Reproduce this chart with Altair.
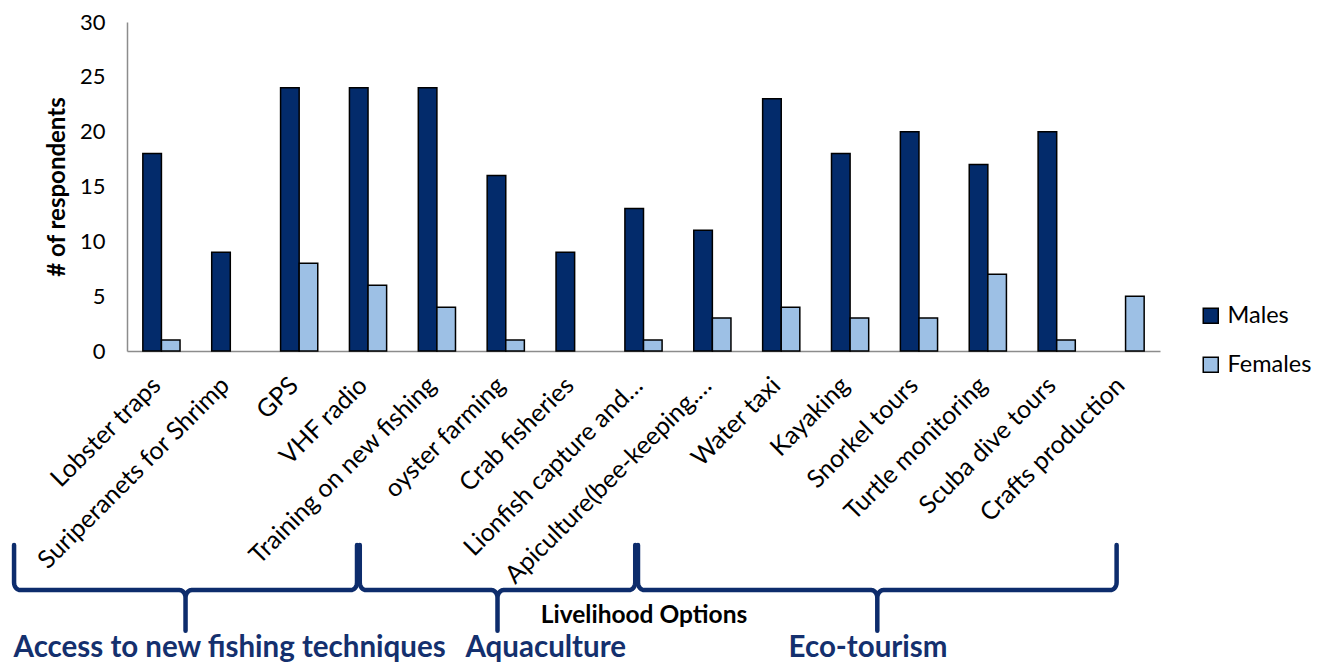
import math
import altair as alt
import pandas as pd

# Survey results: number of respondents interested in each livelihood option
options = [
    "Lobster traps", "Suriperanets for Shrimp", "GPS", "VHF radio",
    "Training on new fishing", "oyster farming", "Crab fisheries",
    "Lionfish capture and…", "Apiculture(bee-keeping.…", "Water taxi",
    "Kayaking", "Snorkel tours", "Turtle monitoring", "Scuba dive tours",
    "Crafts production",
]
males = [18, 9, 24, 24, 24, 16, 9, 13, 11, 23, 18, 20, 17, 20, 0]
females = [1, 0, 8, 6, 4, 1, 0, 1, 3, 4, 3, 3, 7, 1, 5]
series = ["Males", "Females"]

# Option groups shown with curly braces under the axis (extent in category units)
group_names = ["Access to new fishing techniques", "Aquaculture", "Eco-tourism"]
group_start = [-1.64, 3.38, 7.42]
group_end = [3.34, 7.38, 14.37]
group_label_x = [1.49, 6.08, 10.76]

NAVY = "#032b6b"
LIGHT = "#9dc0e5"
BRACE = "#0d2c6c"
FONT = "Lato"

rows = []
for i, opt in enumerate(options):
    rows.append({"option": opt, "sex": "Males", "count": males[i]})
    rows.append({"option": opt, "sex": "Females", "count": females[i]})
bars_df = pd.DataFrame(rows)


def brace(x0, x1, y_top, y_mid, y_tip, rx, ry, n=8):
    """Polyline of a downward-pointing curly brace in axis units."""
    xc = (x0 + x1) / 2
    pts = [(x0, y_top)]
    for k in range(n + 1):
        t = k / n * math.pi / 2
        pts.append((x0 + rx * (1 - math.cos(t)), y_mid + ry * (1 - math.sin(t))))
    for k in range(n + 1):
        t = k / n * math.pi / 2
        pts.append((xc - rx + rx * math.sin(t), y_mid - ry + ry * math.cos(t)))
    pts.append((xc, y_tip))
    for k in range(n + 1):
        t = k / n * math.pi / 2
        pts.append((xc + rx - rx * math.cos(t), y_mid - ry + ry * math.sin(t)))
    for k in range(n + 1):
        t = k / n * math.pi / 2
        pts.append((x1 - rx + rx * math.sin(t), y_mid + ry * (1 - math.cos(t))))
    pts.append((x1, y_top))
    return pts


brace_rows = []
for g, name in enumerate(group_names):
    for j, (bx, by) in enumerate(brace(group_start[g], group_end[g], -17.7, -21.8, -25.5, 0.09, 0.7)):
        brace_rows.append({"group": name, "i": j, "bx": bx, "by": by})
brace_df = pd.DataFrame(brace_rows)

labels_df = pd.DataFrame({"group": group_names, "lx": group_label_x, "ly": [-27.1] * 3})

bars = (
    alt.Chart(bars_df)
    .transform_filter("datum.count > 0")
    .mark_bar(stroke="black", strokeWidth=1.5)
    .encode(
        x=alt.X(
            "option:N",
            sort=options,
            scale=alt.Scale(paddingInner=0.46, paddingOuter=0.23),
            axis=alt.Axis(
                title="Livelihood Options",
                labelAngle=-45,
                labelAlign="right",
                labelBaseline="middle",
                labelFontSize=25,
                labelColor="black",
                labelPadding=30,
                labelOffset=-5,
                labelLimit=400,
                ticks=False,
                domainColor="#8c8c8c",
                domainWidth=1.5,
                titleFontSize=24.5,
                titleFontWeight="bold",
                titleColor="black",
                titlePadding=52,
            ),
        ),
        xOffset=alt.XOffset("sex:N", sort=series, scale=alt.Scale(paddingInner=0, paddingOuter=0)),
        y=alt.Y(
            "count:Q",
            scale=alt.Scale(domain=[0, 30], nice=False),
            axis=alt.Axis(
                title="# of respondents",
                values=[0, 5, 10, 15, 20, 25, 30],
                labelFontSize=22,
                labelColor="black",
                labelPadding=22,
                ticks=False,
                grid=False,
                domainColor="#8c8c8c",
                domainWidth=1.5,
                titleFontSize=24,
                titleFontWeight="bold",
                titleColor="black",
                titlePadding=10,
            ),
        ),
        color=alt.Color(
            "sex:N",
            sort=series,
            scale=alt.Scale(domain=series, range=[NAVY, LIGHT]),
            legend=alt.Legend(
                title=None,
                orient="none",
                legendX=1072,
                legendY=282,
                symbolType="square",
                symbolSize=225,
                symbolStrokeColor="black",
                symbolStrokeWidth=1.5,
                symbolOpacity=1,
                labelFontSize=23.5,
                labelColor="black",
                labelOffset=5,
                rowPadding=24,
            ),
        ),
    )
)

braces = (
    alt.Chart(brace_df)
    .mark_line(color=BRACE, strokeWidth=4.5, strokeJoin="round", strokeCap="round")
    .encode(
        x=alt.X("bx:Q", scale=alt.Scale(domain=[0, 15], nice=False, zero=False), axis=None),
        y=alt.Y("by:Q", scale=alt.Scale(domain=[0, 30], nice=False), axis=None),
        detail="group:N",
        order="i:Q",
    )
)

group_text = (
    alt.Chart(labels_df)
    .mark_text(fontSize=29.5, fontWeight="bold", color="#14306e", baseline="middle", align="center")
    .encode(
        x=alt.X("lx:Q", scale=alt.Scale(domain=[0, 15], nice=False, zero=False), axis=None),
        y=alt.Y("ly:Q", scale=alt.Scale(domain=[0, 30], nice=False), axis=None),
        text="group:N",
    )
)

chart = (
    alt.layer(bars, braces + group_text)
    .resolve_scale(x="independent", y="independent")
    .properties(
        width=1033,
        height=329,
        autosize=alt.AutoSizeParams(type="none"),
        padding={"left": 127, "top": 22, "right": 168, "bottom": 311},
    )
    .configure(font=FONT)
    .configure_view(stroke=None)
)

chart.save("out.html", embed_options={"renderer": "svg", "actions": False})
